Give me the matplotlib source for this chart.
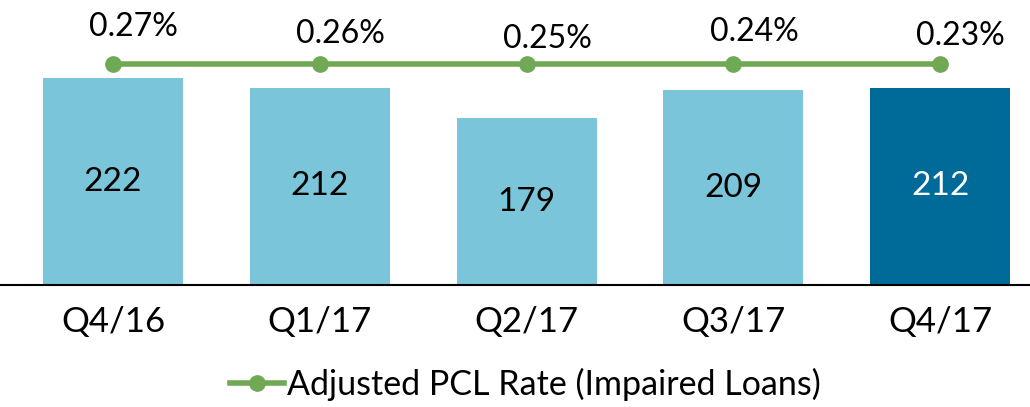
import matplotlib.pyplot as plt
import numpy as np

plt.rcParams['font.family'] = ['Lato', 'DejaVu Sans']

quarters = ['Q4/16', 'Q1/17', 'Q2/17', 'Q3/17', 'Q4/17']
pcl = [222, 212, 179, 209, 212]
rate = [0.27, 0.26, 0.25, 0.24, 0.23]

bar_colors = ['#7ac5d9'] * 4 + ['#006b99']
text_colors = ['black'] * 4 + ['white']
line_level = 237.6          # line drawn flat, as in the slide
label_y = [277, 270, 264, 272, 267]

fig = plt.figure(figsize=(10.3, 4.07), dpi=100)
ax = fig.add_axes([0, 0.2998, 1, 0.7002])

x = np.arange(len(quarters))
ax.bar(x, pcl, width=0.677, color=bar_colors)
for i, v in enumerate(pcl):
    ax.text(x[i], v / 2, str(v), ha='center', va='center',
            fontsize=24, color=text_colors[i])

ax.plot(x, [line_level] * len(x), color='#70a853', lw=4, marker='o',
        ms=11, label='Adjusted PCL Rate (Impaired Loans)')
for i, r in enumerate(rate):
    ax.text(x[i] + 0.1, label_y[i], f'{r:.2f}%', ha='center', va='center',
            fontsize=23)

ax.set_xlim(-0.547, 4.435)
ax.set_ylim(0, 306)
ax.set_xticks(x)
ax.set_xticklabels(quarters, fontsize=25)
ax.tick_params(axis='x', length=0, pad=15)
ax.set_yticks([])
for s in ['top', 'right', 'left']:
    ax.spines[s].set_visible(False)
ax.spines['bottom'].set_linewidth(1.5)

fig.legend(loc='lower center', bbox_to_anchor=(0.51, -0.06), frameon=False,
           fontsize=24.5, handlelength=1.6, handletextpad=0.1)

fig.savefig('out.png', dpi=100)
